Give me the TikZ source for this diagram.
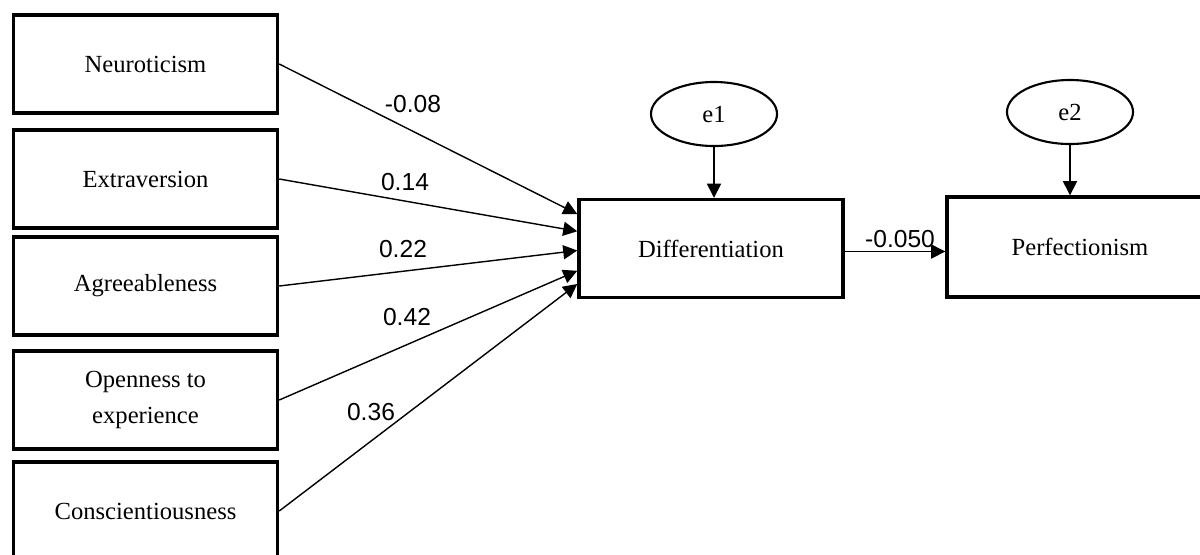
\documentclass[tikz,border=0pt]{standalone}
\usepackage{fontspec}
\setmainfont{Liberation Serif}
\newfontfamily\coeffont{Liberation Sans}
\usetikzlibrary{shapes.geometric,arrows.meta,calc}

\begin{document}
\begin{tikzpicture}[x=0.025cm,y=-0.025cm,
    var/.style={draw,line width=2.4pt,minimum width=6.6cm,minimum height=2.45cm,%
      align=center,font=\fontsize{17.5}{25}\selectfont},
    err/.style={draw,ellipse,line width=1.5pt,minimum width=3.15cm,%
      minimum height=1.6cm,font=\fontsize{17.5}{21}\selectfont},
    coef/.style={font=\coeffont\fontsize{17.5}{21}\selectfont,inner sep=0pt},
    link/.style={line width=1pt,-{Triangle[length=10pt,width=10pt]}}]
  \useasboundingbox (0,0) rectangle (1200,554) ;
  \clip (0,0) rectangle (1200,554) ;
  % predictors
  \node[var] (N) at (145.5,64) {Neuroticism} ;
  \node[var] (E) at (145.5,179) {Extraversion} ;
  \node[var] (A) at (145.5,286) {Agreeableness} ;
  \node[var] (O) at (145.5,400) {Openness to\\experience} ;
  \node[var] (C) at (145.5,511) {Conscientiousness} ;
  % mediator and outcome
  \node[var] (D) at (711,248.5) {Differentiation} ;
  \node[var,minimum width=6.65cm,minimum height=2.5cm] (P) at (1080,247) {Perfectionism} ;
  \node[err] (e1) at (714,114) {e1} ;
  \node[err] (e2) at (1070,112) {e2} ;
  % paths
  \draw[link] (N.east) -- ($(D.north west)!0.16!(D.south west)$) ;
  \draw[link] (E.east) -- ($(D.north west)!0.33!(D.south west)$) ;
  \draw[link] (A.east) -- ($(D.north west)!0.52!(D.south west)$) ;
  \draw[link] (O.east) -- ($(D.north west)!0.72!(D.south west)$) ;
  \draw[link] (C.east) -- ($(D.north west)!0.85!(D.south west)$) ;
  \draw[link] ($(D.east)+(0,3)$) -- ($(D.east -| P.west)+(0,3)$) ;
  \draw[link] (e1.south) -- (e1.south |- D.north) ;
  \draw[link] (e2.south) -- (e2.south |- P.north) ;
  % coefficients
  \node[coef] (bN) at (413,104) {-0.08} ;
  \node[coef] (bE) at (405,182) {0.14} ;
  \node[coef] (bA) at (403,249) {0.22} ;
  \node[coef] (bO) at (407,317) {0.42} ;
  \node[coef] (bC) at (371,412) {0.36} ;
  \node[coef] (bD) at (900,239) {-0.050} ;
\end{tikzpicture}
\end{document}
